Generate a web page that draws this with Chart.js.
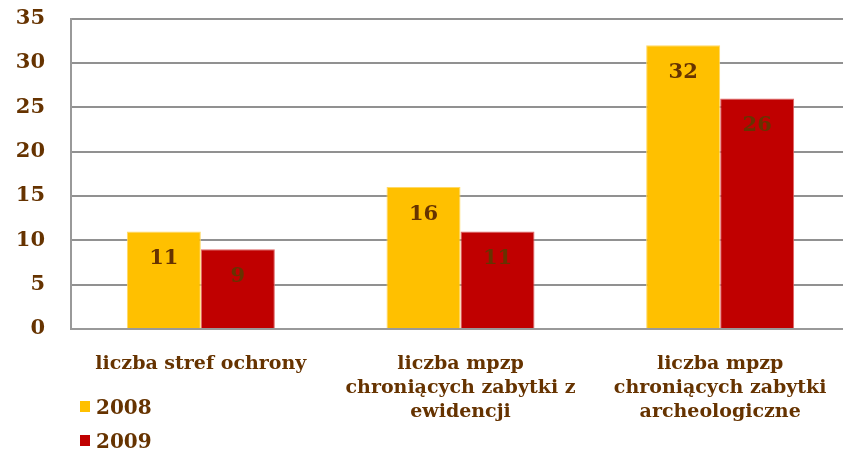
<!DOCTYPE html>
<html>
<head>
<meta charset="utf-8">
<script src="https://cdn.jsdelivr.net/npm/chart.js@4"></script>
<style>
  html, body { margin: 0; padding: 0; background: #fff; overflow: hidden; }
  #wrap { position: relative; width: 843px; height: 454px; overflow: hidden; }
  #chart { position: absolute; left: 0; top: -20px; }
  .leg { position: absolute; left: 80px; font: bold 20px "DejaVu Serif", serif; color: #663300; }
  .leg span { display: inline-block; width: 10px; height: 11px; margin-right: 6px; vertical-align: 2px; }
</style>
</head>
<body>
<div id="wrap">
  <canvas id="chart" width="852" height="474"></canvas>
  <div class="leg" style="top:395px"><span style="background:#FFC000"></span>2008</div>
  <div class="leg" style="top:429px"><span style="background:#C00000"></span>2009</div>
</div>
<script>
const categories = [
  ['liczba stref ochrony'],
  ['liczba mpzp', 'chroniących zabytki z', 'ewidencji'],
  ['liczba mpzp', 'chroniących zabytki', 'archeologiczne']
];
const seriesNames = ['2008', '2009'];
const values2008 = [11, 16, 32];
const values2009 = [9, 11, 26];
const yTicks = [0, 5, 10, 15, 20, 25, 30, 35];

const brown = '#663300';
const serif = '"DejaVu Serif", serif';

const valueLabels = {
  id: 'valueLabels',
  afterDatasetsDraw(chart) {
    const ctx = chart.ctx;
    ctx.save();
    ctx.font = 'bold 21px ' + serif;
    ctx.fillStyle = brown;
    ctx.textAlign = 'center';
    ctx.textBaseline = 'middle';
    chart.data.datasets.forEach((ds, i) => {
      chart.getDatasetMeta(i).data.forEach((bar, j) => {
        ctx.fillText(ds.data[j], bar.x, bar.y + 27);
      });
    });
    ctx.restore();
  }
};

new Chart(document.getElementById('chart'), {
  type: 'bar',
  data: {
    labels: categories,
    datasets: [
      { label: seriesNames[0], data: values2008, backgroundColor: '#FFC000', borderColor: '#FFD966', borderWidth: 1 },
      { label: seriesNames[1], data: values2009, backgroundColor: '#C00000', borderColor: '#E06666', borderWidth: 1 }
    ]
  },
  options: {
    responsive: false,
    animation: false,
    layout: { padding: { top: 0, right: 2, left: 0, bottom: 0 } },
    datasets: { bar: { categoryPercentage: 0.57, barPercentage: 1 } },
    plugins: { legend: { display: false }, tooltip: { enabled: false } },
    scales: {
      x: {
        grid: { display: false },
        border: { color: '#999', width: 2 },
        ticks: {
          color: brown,
          font: { family: serif, weight: 'bold', size: 19, lineHeight: 1.27 },
          maxRotation: 0,
          autoSkip: false,
          padding: 15
        },
        afterFit(scale) { scale.height = 125; }
      },
      y: {
        min: 0,
        max: 35,
        afterBuildTicks(scale) { scale.ticks = yTicks.map(v => ({ value: v })); },
        grid: { color: '#919191', lineWidth: 2, drawTicks: false },
        border: { color: '#999', width: 2 },
        ticks: {
          color: brown,
          font: { family: serif, weight: 'bold', size: 21 },
          padding: 26
        },
        afterFit(scale) { scale.width = 71; }
      }
    }
  },
  plugins: [valueLabels]
});
</script>
</body>
</html>
